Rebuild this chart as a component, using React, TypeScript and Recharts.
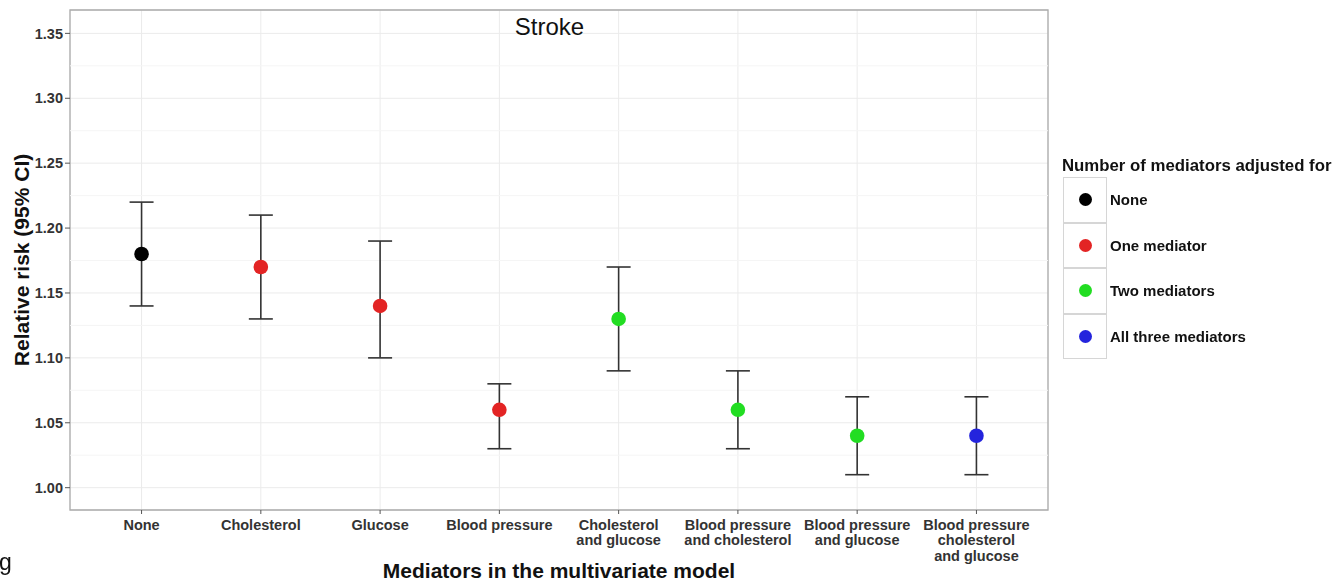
import React from 'react';
import {
  ComposedChart,
  Scatter,
  ErrorBar,
  XAxis,
  YAxis,
  CartesianGrid,
  ReferenceLine,
  ReferenceArea,
  Label,
} from 'recharts';

// Mediator models along the x axis
const categories = [
  'None',
  'Cholesterol',
  'Glucose',
  'Blood pressure',
  'Cholesterol\nand glucose',
  'Blood pressure\nand cholesterol',
  'Blood pressure\nand glucose',
  'Blood pressure\ncholesterol\nand glucose',
];

// Relative risk estimates with 95% confidence limits
const estimates = [1.18, 1.17, 1.14, 1.06, 1.13, 1.06, 1.04, 1.04];
const lowerCI = [1.14, 1.13, 1.1, 1.03, 1.09, 1.03, 1.01, 1.01];
const upperCI = [1.22, 1.21, 1.19, 1.08, 1.17, 1.09, 1.07, 1.07];

// Number of mediators adjusted for in each model (index into groups)
const mediatorGroup = [0, 1, 1, 1, 2, 2, 2, 3];
const groupLabels = ['None', 'One mediator', 'Two mediators', 'All three mediators'];
const groupColors = ['#000000', '#E32424', '#22DD22', '#2424DD'];

const yTicks = [1.0, 1.05, 1.1, 1.15, 1.2, 1.25, 1.3, 1.35];
const yMinorTicks = [1.025, 1.075, 1.125, 1.175, 1.225, 1.275, 1.325];
const xTicks = categories.map((_, i) => i + 1);

const Y_DOMAIN: [number, number] = [0.9828, 1.368];
const X_DOMAIN: [number, number] = [0.4, 8.6];

const FONT = '"Liberation Sans", Arial, Helvetica, sans-serif';

const groupData = groupLabels.map((_, g) =>
  estimates
    .map((est, i) => ({
      x: i + 1,
      y: est,
      err: [est - lowerCI[i], upperCI[i] - est],
      group: mediatorGroup[i],
    }))
    .filter((d) => d.group === g)
);

const CategoryTick = (props: any) => {
  const { x, y, payload } = props;
  const lines = categories[payload.value - 1].split('\n');
  return (
    <text
      x={x}
      y={y}
      textAnchor="middle"
      fontSize={14.5}
      fontWeight="bold"
      fill="#333"
      fontFamily={FONT}
    >
      {lines.map((line, i) => (
        <tspan key={i} x={x} dy={i === 0 ? 13.5 : 15.7}>
          {line}
        </tspan>
      ))}
    </text>
  );
};

const Dot = (props: any) => {
  const { cx, cy, fill } = props;
  return <circle cx={cx} cy={cy} r={7.3} fill={fill} />;
};

export default function App() {
  return (
    <div style={{ position: 'relative', width: 1320, height: 573, fontFamily: FONT }}>
      <ComposedChart
        width={1320}
        height={573}
        margin={{ top: 2, right: 280, bottom: 0, left: 0 }}
      >
        <CartesianGrid stroke="#ebebeb" strokeWidth={1} />
        {yMinorTicks.map((v) => (
          <ReferenceLine key={v} y={v} stroke="#f5f5f5" strokeWidth={1} />
        ))}
        <ReferenceArea
          x1={X_DOMAIN[0]}
          x2={X_DOMAIN[1]}
          y1={Y_DOMAIN[0]}
          y2={Y_DOMAIN[1]}
          fill="none"
          fillOpacity={0}
          stroke="#ababab"
          strokeWidth={1.3}
        />
        <XAxis
          type="number"
          dataKey="x"
          domain={X_DOMAIN}
          ticks={xTicks}
          allowDataOverflow
          axisLine={false}
          tickLine={{ stroke: '#555' }}
          tickSize={4}
          tickMargin={2}
          height={71}
          interval={0}
          tick={<CategoryTick />}
        >
          <Label
            content={(p: any) => {
              const vb = p.viewBox;
              return (
                <text
                  x={vb.x + vb.width / 2}
                  y={vb.y + 68}
                  textAnchor="middle"
                  fontSize={21}
                  fontWeight="bold"
                  fill="#111"
                  fontFamily={FONT}
                >
                  Mediators in the multivariate model
                </text>
              );
            }}
          />
        </XAxis>
        <YAxis
          type="number"
          domain={Y_DOMAIN}
          ticks={yTicks}
          allowDataOverflow
          width={62}
          axisLine={false}
          tickLine={{ stroke: '#555' }}
          tickSize={5}
          tickMargin={2}
          tickFormatter={(v: number) => v.toFixed(2)}
          tick={{ fontSize: 14.5, fontWeight: 'bold', fill: '#333', fontFamily: FONT }}
        >
          <Label
            content={(p: any) => {
              const vb = p.viewBox;
              const cx = 20.5;
              const cy = vb.y + vb.height / 2;
              return (
                <text
                  x={cx}
                  y={cy}
                  transform={`rotate(-90 ${cx} ${cy})`}
                  textAnchor="middle"
                  fontSize={21}
                  fontWeight="bold"
                  fill="#111"
                  fontFamily={FONT}
                >
                  Relative risk (95% CI)
                </text>
              );
            }}
          />
        </YAxis>
        {groupData.map((data, g) => (
          <Scatter
            key={groupLabels[g]}
            name={groupLabels[g]}
            data={data}
            dataKey="y"
            fill={groupColors[g]}
            shape={<Dot />}
            isAnimationActive={false}
          >
            <ErrorBar
              dataKey="err"
              direction="y"
              width={12}
              stroke="#333"
              strokeWidth={1.6}
              isAnimationActive={false}
            />
          </Scatter>
        ))}
      </ComposedChart>

      {/* panel title */}
      <div
        style={{
          position: 'absolute',
          left: 441.5,
          top: 4.7,
          width: 200,
          textAlign: 'center',
          fontSize: 24,
          lineHeight: '28px',
          color: '#111',
        }}
      >
        Stroke
      </div>

      {/* legend */}
      <div style={{ position: 'fixed', left: 1062, top: 156 }}>
        <div style={{ fontSize: 16.8, fontWeight: 'bold', lineHeight: '20px', color: '#111', whiteSpace: 'nowrap' }}>
          Number of mediators adjusted for
        </div>
      </div>
      <div style={{ position: 'absolute', left: 1055, top: 169 }}>
        {groupLabels.map((label, g) => (
          <div key={label} style={{ display: 'flex', alignItems: 'center', height: 45.5 }}>
            <div
              style={{
                width: 44,
                height: 45.5,
                boxSizing: 'border-box',
                border: '1px solid #d6d6d6',
                display: 'flex',
                alignItems: 'center',
                justifyContent: 'center',
              }}
            >
              <div style={{ width: 13, height: 13, borderRadius: '50%', background: groupColors[g] }} />
            </div>
            <div
              style={{
                marginLeft: 3,
                fontSize: 15,
                fontWeight: 'bold',
                color: '#111',
                whiteSpace: 'nowrap',
              }}
            >
              {label}
            </div>
          </div>
        ))}
      </div>

      {/* stray caption fragment at lower left */}
      <div
        style={{
          position: 'fixed',
          left: -1,
          top: 549,
          fontSize: 23,
          lineHeight: '27px',
          color: '#111',
        }}
      >
        g
      </div>
    </div>
  );
}
